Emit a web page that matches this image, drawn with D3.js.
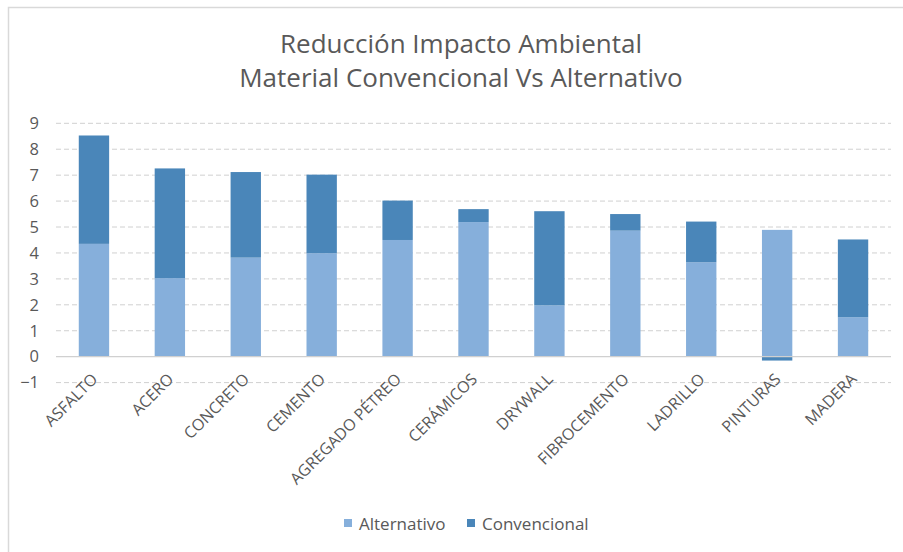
<!DOCTYPE html>
<html><head><meta charset="utf-8">
<script src="https://cdn.jsdelivr.net/npm/d3@7"></script>
<style>body{margin:0;background:#fff}svg{display:block}</style>
</head><body><svg id="c" width="903" height="552"></svg>
<script>
const categories = ["ASFALTO","ACERO","CONCRETO","CEMENTO","AGREGADO PÉTREO","CERÁMICOS","DRYWALL","FIBROCEMENTO","LADRILLO","PINTURAS","MADERA"];
const alternativo = [4.35, 3.03, 3.82, 3.99, 4.5, 5.19, 1.98, 4.86, 3.64, 4.89, 1.52];
const convencional = [4.18, 4.23, 3.3, 3.03, 1.52, 0.5, 3.63, 0.64, 1.57, -0.15, 3.0];
const yTicks = [-1,0,1,2,3,4,5,6,7,8,9];
const seriesNames = ["Alternativo","Convencional"];
const colors = ["#86afdb","#4a86b9"];
const titleLines = ["Reducción Impacto Ambiental","Material Convencional Vs Alternativo"];

const svg = d3.select("#c");
const font = "'Open Sans', sans-serif";
// chart border
svg.append("rect").attr("x",8.5).attr("y",7.5).attr("width",900).attr("height",560)
  .attr("fill","none").attr("stroke","#d9d9d9").attr("stroke-width",1.5);

const x = d3.scaleBand().domain(categories).range([56,891]).paddingInner(0.6).paddingOuter(0.3);
const y = d3.scaleLinear().domain([-1,9]).range([382.6,123.3]);

// gridlines
svg.append("g").selectAll("line").data(yTicks.filter(t=>t!==0)).join("line")
  .attr("x1",56).attr("x2",891).attr("y1",d=>y(d)).attr("y2",d=>y(d))
  .attr("stroke","#d0d0d0").attr("stroke-width",1).attr("stroke-dasharray","5,3");

// stacked data
const rows = categories.map((c,i)=>({cat:c, Alternativo:alternativo[i], Convencional:convencional[i]}));
const stack = d3.stack().keys(seriesNames).offset(d3.stackOffsetDiverging);
const layers = stack(rows);
svg.append("g").selectAll("g").data(layers).join("g")
  .attr("fill",(d,i)=>colors[i])
  .selectAll("rect").data(d=>d).join("rect")
  .attr("x",d=>x(d.data.cat)).attr("width",x.bandwidth())
  .attr("y",d=>y(Math.max(d[0],d[1]))).attr("height",d=>Math.abs(y(d[0])-y(d[1])));

// zero line
svg.append("line").attr("x1",56).attr("x2",891).attr("y1",y(0)).attr("y2",y(0))
  .attr("stroke","#d0d0d0").attr("stroke-width",1.2);

// y axis labels
const yAxis = d3.axisLeft(y).tickValues(yTicks).tickSize(0).tickPadding(0).tickFormat(d3.format("d"));
const ya = svg.append("g").attr("transform","translate(39,0)").call(yAxis);
ya.select(".domain").remove();
ya.selectAll("text").attr("font-family",font).attr("font-size",16.5).attr("fill","#595959");

// x labels
const xAxis = d3.axisBottom(x).tickSize(0).tickPadding(0);
const xa = svg.append("g").attr("transform",`translate(0,${y(-1)})`).call(xAxis);
xa.select(".domain").remove();
xa.selectAll("text").attr("font-family",font).attr("font-size",16).attr("fill","#595959")
  .attr("text-anchor","end").attr("dy",null).attr("y",null)
  .attr("transform","translate(-5,-12) rotate(-45)").attr("dominant-baseline","hanging");

// title
svg.append("g").selectAll("text").data(titleLines).join("text")
  .attr("x",461).attr("y",(d,i)=>53+i*34).attr("text-anchor","middle")
  .attr("font-family",font).attr("font-size",26).attr("fill","#595959").text(d=>d);

// legend
const leg = svg.append("g").attr("font-family",font).attr("font-size",17).attr("fill","#595959");
const legX = [344,467];
seriesNames.forEach((n,i)=>{
  leg.append("rect").attr("x",legX[i]).attr("y",519).attr("width",8).attr("height",8).attr("fill",colors[i]);
  leg.append("text").attr("x",legX[i]+15).attr("y",530).text(n);
});
</script></body></html>
